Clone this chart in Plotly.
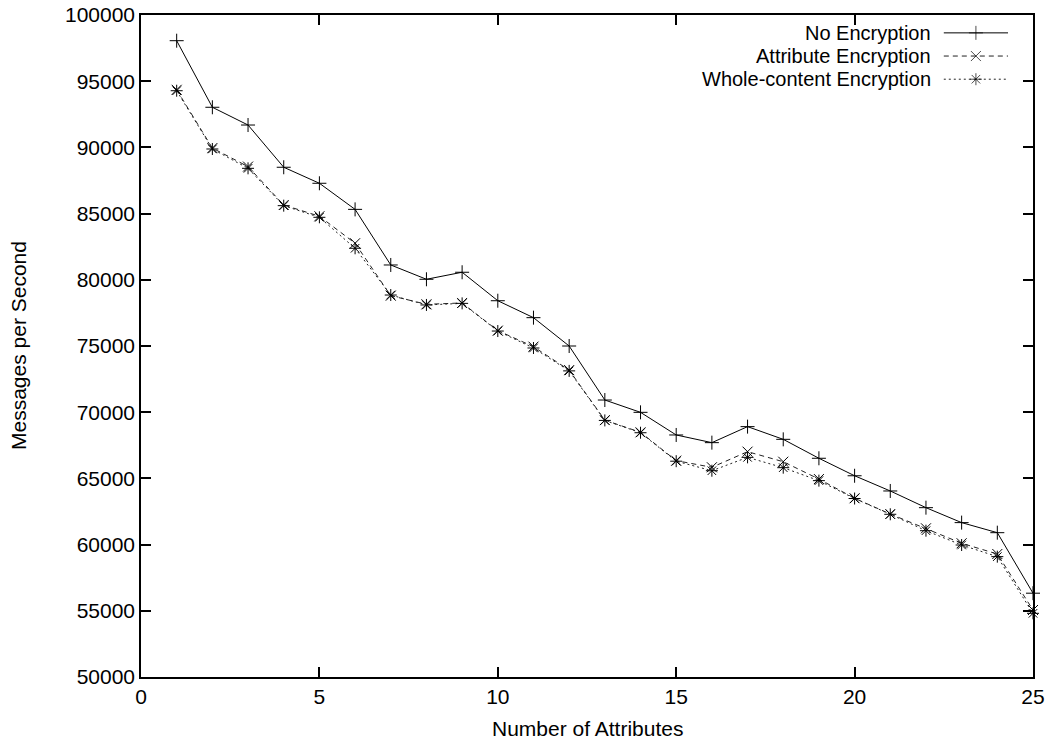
import plotly.graph_objects as go

attributes = list(range(1, 26))
no_encryption = [98060, 93030, 91690, 88500, 87290, 85320, 81120, 80040, 80570, 78420,
                 77140, 75000, 70920, 69990, 68280, 67700, 68910, 67950, 66520, 65200,
                 64050, 62790, 61660, 60900, 56330]
attribute_encryption = [94350, 89950, 88550, 85650, 84800, 82760, 78800, 78150, 78250, 76160,
                        74950, 73180, 69400, 68480, 66340, 65840, 67020, 66260, 64950, 63500,
                        62310, 61230, 60100, 59290, 55060]
whole_encryption = [94280, 89880, 88420, 85600, 84720, 82380, 78850, 78100, 78220, 76130,
                    74850, 73120, 69380, 68450, 66300, 65580, 66590, 65810, 64830, 63480,
                    62290, 61050, 59970, 59090, 54810]
series_names = ["No Encryption", "Attribute Encryption", "Whole-content Encryption"]
x_ticks = [0, 5, 10, 15, 20, 25]
y_ticks = list(range(50000, 100001, 5000))
x_title = "Number of Attributes"
y_title = "Messages per Second"

FONT = "Liberation Sans, Arial, sans-serif"
FS = 21
styles = [
    dict(dash="solid", symbol="cross-thin-open", color="#000000"),
    dict(dash="5px,4px", symbol="x-thin-open", color="#222222"),
    dict(dash="2px,3px", symbol="asterisk-open", color="#222222"),
]
data = [no_encryption, attribute_encryption, whole_encryption]

fig = go.Figure()
for name, ys, st in zip(series_names, data, styles):
    fig.add_trace(go.Scatter(
        x=attributes, y=ys, name=name, mode="lines+markers",
        line=dict(color=st["color"], width=1, dash=st["dash"]),
        marker=dict(symbol=st["symbol"], size=10, color="#000000",
                    line=dict(width=1, color="#000000")),
        showlegend=False, cliponaxis=False,
    ))

# gnuplot-style key: right-aligned text followed by sample line with marker
key_rows = [0.973, 0.938, 0.903]
for name, st, ky in zip(series_names, styles, key_rows):
    fig.add_trace(go.Scatter(
        x=[0.900, 0.936, 0.972], y=[ky, ky, ky], xaxis="x2", yaxis="y2",
        mode="lines+markers",
        line=dict(color=st["color"], width=1, dash=st["dash"]),
        marker=dict(symbol=st["symbol"], size=[0, 10, 0], color="#000000",
                    line=dict(width=1, color="#000000")),
        showlegend=False, hoverinfo="skip",
    ))
    fig.add_annotation(x=0.888, y=ky, xref="x2", yref="y2", text=name,
                       showarrow=False, xanchor="right", yanchor="middle",
                       font=dict(family=FONT, size=20, color="#000000"))

# axis titles
fig.add_annotation(x=0.5, y=0, xref="paper", yref="paper", text=x_title,
                   showarrow=False, xanchor="center", yanchor="middle", yshift=-51,
                   font=dict(family=FONT, size=FS, color="#000000"))
fig.add_annotation(x=0, y=0.5, xref="paper", yref="paper", text=y_title,
                   showarrow=False, xanchor="center", yanchor="middle", xshift=-123,
                   textangle=-90,
                   font=dict(family=FONT, size=FS, color="#000000"))

axis_common = dict(
    showline=True, linecolor="#000000", linewidth=1.5, mirror="ticks",
    ticks="inside", ticklen=10, tickwidth=1.5, tickcolor="#000000",
    showgrid=False, zeroline=False, automargin=False,
    tickfont=dict(family=FONT, size=FS, color="#000000"),
)

fig.update_layout(
    width=1048, height=741,
    margin=dict(l=141, r=15, t=15, b=64),
    plot_bgcolor="white", paper_bgcolor="white",
    showlegend=False,
    xaxis=dict(range=[0, 25], tickvals=x_ticks, ticktext=[str(v) for v in x_ticks],
               **axis_common),
    yaxis=dict(range=[50000, 100000], tickvals=y_ticks, ticktext=[str(v) for v in y_ticks],
               **axis_common),
    xaxis2=dict(range=[0, 1], overlaying="x", visible=False, fixedrange=True),
    yaxis2=dict(range=[0, 1], overlaying="y", visible=False, fixedrange=True),
)

fig.write_html("out.html")
